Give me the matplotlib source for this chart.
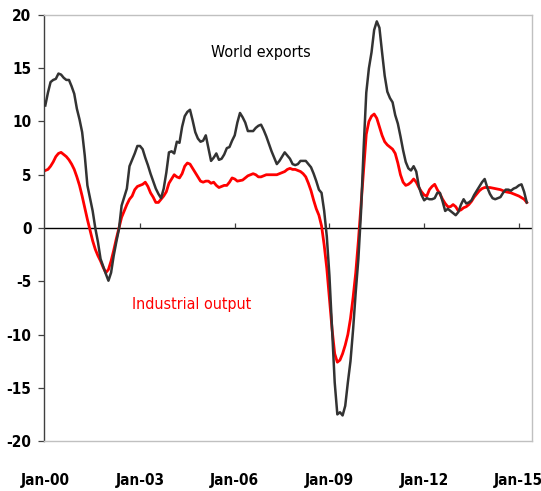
import matplotlib
matplotlib.use("Agg")
import matplotlib.pyplot as plt

# months since Jan 2000, values in % y/y
exp_months = list(range(0, 184))
world_exports = [
    11.5, 12.7, 13.7, 13.9, 14.0, 14.5, 14.4, 14.1, 13.9, 13.9, 13.3, 12.6,
    11.2, 10.2, 9.0, 6.8, 4.0, 2.8, 1.6, 0.0, -1.3, -2.9, -3.6, -4.3,
    -4.95, -4.2, -2.6, -1.3, -0.1, 2.1, 2.9, 3.7, 5.8, 6.4, 7.0, 7.7,
    7.7, 7.4, 6.6, 5.9, 5.1, 4.4, 3.7, 3.2, 2.8, 3.7, 5.2, 7.1,
    7.2, 7.0, 8.1, 8.0, 9.5, 10.5, 10.9, 11.1, 10.1, 9.0, 8.4, 8.1,
    8.2, 8.7, 7.5, 6.3, 6.6, 7.0, 6.4, 6.5, 6.9, 7.5, 7.6, 8.2,
    8.7, 9.9, 10.8, 10.4, 9.9, 9.1, 9.1, 9.1, 9.4, 9.6, 9.7, 9.2,
    8.6, 7.9, 7.2, 6.6, 6.0, 6.3, 6.7, 7.1, 6.8, 6.5, 6.0, 5.9,
    6.0, 6.3, 6.3, 6.3, 6.0, 5.7, 5.1, 4.4, 3.6, 3.3, 1.6, -0.8,
    -4.5, -9.5, -14.5, -17.5, -17.3, -17.6, -16.7, -14.5, -12.5, -9.5, -6.0, -2.9,
    1.5, 7.5, 12.7, 15.0, 16.5, 18.6, 19.4, 18.8, 16.5, 14.3, 12.8, 12.2,
    11.8, 10.6, 9.8, 8.6, 7.3, 6.2, 5.6, 5.4, 5.8, 5.3, 3.9, 3.1,
    2.6, 2.8, 2.7, 2.7, 2.8, 3.3, 3.3, 2.5, 1.6, 1.8, 1.6, 1.4,
    1.2, 1.5, 2.2, 2.7, 2.3, 2.4, 2.6, 3.1, 3.5, 3.9, 4.3, 4.6,
    3.8, 3.2, 2.8, 2.7, 2.8, 2.9, 3.3, 3.6, 3.6, 3.5, 3.7, 3.8,
    4.0, 4.1, 3.4, 2.4,
]
ind_months = list(range(0, 184))
industrial_output = [
    5.4, 5.5, 5.8, 6.2, 6.7, 7.0, 7.1, 6.9, 6.7, 6.4, 6.0, 5.5,
    4.8, 4.0, 3.0, 1.9, 0.8, -0.2, -1.2, -2.0, -2.6, -3.1, -3.7, -4.2,
    -3.9, -3.1, -2.1, -1.0, 0.0, 1.0, 1.6, 2.2, 2.7, 3.0, 3.6, 3.9,
    4.0, 4.1, 4.3, 3.9, 3.3, 2.9, 2.4, 2.4, 2.7, 3.0, 3.4, 4.2,
    4.6, 5.0, 4.8, 4.7, 5.1, 5.8, 6.1, 6.0, 5.6, 5.2, 4.8, 4.4,
    4.3, 4.4, 4.4, 4.2, 4.3, 4.0, 3.8, 3.9, 4.0, 4.0, 4.3, 4.7,
    4.6, 4.4, 4.45, 4.5, 4.7, 4.9, 5.0, 5.1, 5.0, 4.8, 4.8, 4.9,
    5.0, 5.0, 5.0, 5.0, 5.0, 5.1, 5.2, 5.3, 5.5, 5.6, 5.5, 5.5,
    5.4, 5.3, 5.1, 4.8, 4.2, 3.5, 2.6, 1.8, 1.2, 0.2, -1.6, -3.8,
    -6.7, -9.5, -11.8, -12.6, -12.4, -11.8, -11.0, -10.0, -8.5, -6.5, -4.2, -1.2,
    2.2, 5.5, 8.8, 10.0, 10.5, 10.7, 10.3, 9.5, 8.7, 8.1, 7.8, 7.6,
    7.4, 7.0, 6.1, 5.0, 4.3, 4.0, 4.1, 4.3, 4.6, 4.3, 3.8, 3.4,
    3.1, 3.0, 3.6, 3.9, 4.1, 3.6, 3.2, 2.7, 2.3, 2.0, 2.0, 2.2,
    2.0, 1.6, 1.7, 1.9, 2.0, 2.2, 2.5, 2.9, 3.2, 3.5, 3.7, 3.8,
    3.8, 3.8, 3.75, 3.7, 3.65, 3.6, 3.5, 3.4, 3.35, 3.3, 3.2, 3.1,
    3.0, 2.85, 2.7, 2.4,
]

tick_months = [0, 36, 72, 108, 144, 180]
tick_labels = ["Jan-00", "Jan-03", "Jan-06", "Jan-09", "Jan-12", "Jan-15"]
y_ticks = [-20, -15, -10, -5, 0, 5, 10, 15, 20]

FONT = dict(family="DejaVu Sans", stretch="condensed")

fig = plt.figure(figsize=(5.41, 4.91), dpi=100)
ax = fig.add_axes([0.0813, 0.1018, 0.9021, 0.8677])

ax.axhline(0, color="black", lw=1.0, zorder=1)
ax.vlines(tick_months[1:], 0, 0.45, color="#404040", lw=0.9, zorder=1)

ax.plot(exp_months, world_exports, color="#333333", lw=1.8, zorder=3)
ax.plot(ind_months, industrial_output, color="#ff0000", lw=2.0, zorder=2)

ax.set_xlim(-0.5, 185)
ax.set_ylim(-20, 20)

ax.set_yticks(y_ticks)
ax.set_yticklabels([str(v) for v in y_ticks], fontweight="bold", fontsize=11, **FONT)
ax.set_xticks(tick_months)
ax.set_xticklabels(tick_labels, fontweight="bold", fontsize=11, **FONT)
ax.tick_params(axis="x", length=0, pad=23)
ax.tick_params(axis="y", length=4, width=0.9, color="#404040", pad=5)

for side in ["top", "right", "bottom"]:
    ax.spines[side].set_color("#c0c0c0")
    ax.spines[side].set_linewidth(1.0)
ax.spines["left"].set_color("#404040")
ax.spines["left"].set_linewidth(1.0)

ax.text(0.445, 0.911, "World exports", transform=ax.transAxes, ha="center", va="center",
        fontsize=11.5, color="black", **FONT)
ax.text(0.303, 0.321, "Industrial output", transform=ax.transAxes, ha="center", va="center",
        fontsize=11.5, color="#ff0000", **FONT)

fig.savefig("out.png", dpi=100)
